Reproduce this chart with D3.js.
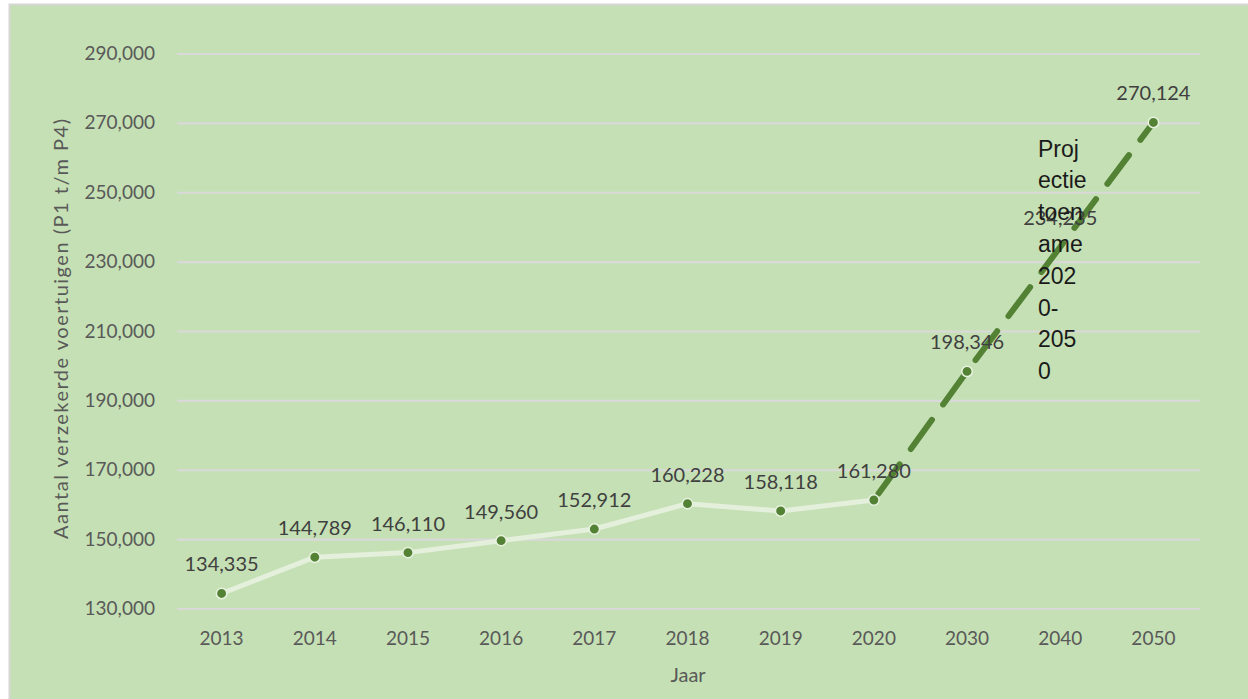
<!DOCTYPE html>
<html>
<head>
<meta charset="utf-8">
<script src="https://cdn.jsdelivr.net/npm/d3@7"></script>
<style>
html,body{margin:0;padding:0;background:#fff;}
svg{display:block;}
</style>
</head>
<body>
<svg id="chart" width="1248" height="699"></svg>
<script>
const categories = ["2013","2014","2015","2016","2017","2018","2019","2020","2030","2040","2050"];
const historicValues = [134335,144789,146110,149560,152912,160228,158118,161280];
const historicYears = ["2013","2014","2015","2016","2017","2018","2019","2020"];
const projectionYears = ["2020","2030","2040","2050"];
const projectionValues = [161280,198346,234235,270124];
const projectionLabelYears = ["2030","2040","2050"];
const hiddenMarkerYears = ["2040"];
const yTicks = [130000,150000,170000,190000,210000,230000,250000,270000,290000];
const annotationLines = ["Proj","ectie","toen","ame","202","0-","205","0"];
const yTitle = "Aantal verzekerde voertuigen (P1 t/m P4)";
const xTitle = "Jaar";

const svg = d3.select("#chart");
const fmt = d3.format(",");
const labelFont = "Lato, 'Open Sans', sans-serif";

svg.append("rect").attr("x",9.5).attr("y",4.5).attr("width",1250).attr("height",700)
  .attr("fill","#c5e0b4").attr("stroke","#d6d6d6").attr("stroke-width",2);

const x = d3.scaleBand().domain(categories).range([175,1200]).padding(0);
const y = d3.scaleLinear().domain([130000,290000]).range([608.5,53.5]);
const cx = d => x(d) + x.bandwidth()/2;

// gridlines + y axis
const yAxis = d3.axisLeft(y).tickValues(yTicks).tickFormat(fmt).tickSize(-(1200-177)).tickPadding(22);
const gy = svg.append("g").attr("transform","translate(177,0)").call(yAxis);
gy.select(".domain").remove();
gy.selectAll(".tick line").attr("stroke","#d9d9d9").attr("stroke-width",2.2);
gy.selectAll(".tick text").attr("fill","#595959").style("font-family",labelFont).style("font-size","19px");

const xAxis = d3.axisBottom(x).tickSize(0).tickPadding(0);
const gx = svg.append("g").attr("transform","translate(0,645)").call(xAxis);
gx.select(".domain").remove();
gx.selectAll(".tick text").attr("fill","#595959").attr("dy","0").style("font-family",labelFont).style("font-size","19px");

// titles
svg.append("text").attr("transform","translate(68,329) rotate(-90)").attr("text-anchor","middle")
  .attr("fill","#595959").style("font-family",labelFont).style("font-size","20px")
  .attr("textLength",420).attr("lengthAdjust","spacing").text(yTitle);
svg.append("text").attr("x",688).attr("y",682).attr("text-anchor","middle")
  .attr("fill","#595959").style("font-family",labelFont).style("font-size","20px").text(xTitle);

// lines
const hist = historicYears.map((d,i)=>({c:d,v:historicValues[i]}));
const proj = projectionYears.map((d,i)=>({c:d,v:projectionValues[i]}));
const line = d3.line().x(d=>cx(d.c)).y(d=>y(d.v));

svg.append("path").datum(hist).attr("d",line).attr("fill","none")
  .attr("stroke","#e4efdc").attr("stroke-width",5).attr("stroke-linejoin","round");

svg.append("path").datum(proj).attr("d",line).attr("fill","none")
  .attr("stroke","#548235").attr("stroke-width",6).attr("stroke-linecap","round")
  .attr("stroke-dasharray","36,19").attr("stroke-dashoffset",-8);

// markers
const markers = hist.concat(proj.filter(d=>d.c!=="2020" && !hiddenMarkerYears.includes(d.c)));
svg.append("g").selectAll("circle").data(markers).join("circle")
  .attr("cx",d=>cx(d.c)).attr("cy",d=>y(d.v)).attr("r",5.2)
  .attr("fill","#548235").attr("stroke","#e8f2e0").attr("stroke-width",1.5);

// data labels
const labels = hist.concat(proj.filter(d=>projectionLabelYears.includes(d.c)));
svg.append("g").selectAll("text").data(labels).join("text")
  .attr("x",d=>cx(d.c)).attr("y",d=>y(d.v)-22).attr("text-anchor","middle")
  .attr("fill","#404040").style("font-family",labelFont).style("font-size","20px")
  .text(d=>fmt(d.v));

// annotation
svg.append("g").selectAll("text").data(annotationLines).join("text")
  .attr("x",1038).attr("y",(d,i)=>156.5+i*31.8)
  .attr("fill","#1a1a1a").style("font-family","'Liberation Sans', Arial, sans-serif").style("font-size","23px")
  .text(d=>d);
</script>
</body>
</html>
